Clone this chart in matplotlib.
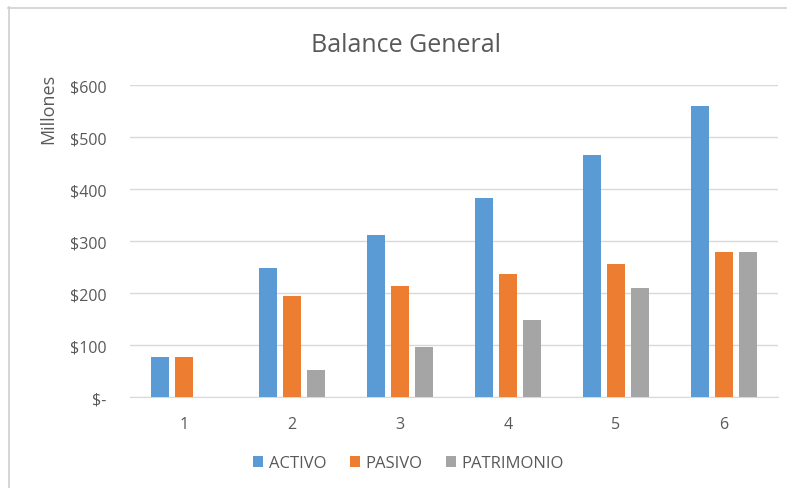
import matplotlib
matplotlib.use('Agg')
import matplotlib.pyplot as plt
from matplotlib.lines import Line2D
import numpy as np

periodos = ['1', '2', '3', '4', '5', '6']
activo = [77, 248, 311, 382, 465, 560]
pasivo = [77, 194, 213, 236, 256, 279]
patrimonio = [0, 52, 96, 148, 210, 279]
y_ticks = [0, 100, 200, 300, 400, 500, 600]
y_labels = ['$-', '$100', '$200', '$300', '$400', '$500', '$600']

colores = ['#5B9BD5', '#ED7D31', '#A5A5A5']
texto = '#595959'

plt.rcParams['font.family'] = ['Open Sans', 'DejaVu Sans']

fig = plt.figure(figsize=(7.87, 4.89), dpi=100)
ax = fig.add_axes([0.165, 0.186, 0.8236, 0.638])

x = np.arange(len(periodos))
ancho = 0.167
paso = 0.222
series = [('ACTIVO', activo), ('PASIVO', pasivo), ('PATRIMONIO', patrimonio)]
for i, (nombre, valores) in enumerate(series):
    ax.bar(x + (i - 1) * paso, valores, width=ancho, color=colores[i],
           label=nombre, zorder=3)

ax.set_xlim(-0.5, len(periodos) - 0.5)
ax.set_ylim(0, 600)
ax.set_yticks(y_ticks)
ax.set_yticklabels(y_labels)
ax.set_xticks(x)
ax.set_xticklabels(periodos)
ax.yaxis.grid(True, color='#D9D9D9', linewidth=1, zorder=0)
for s in ['top', 'right', 'left']:
    ax.spines[s].set_visible(False)
ax.spines['bottom'].set_color('#D9D9D9')
ax.tick_params(axis='both', length=0, colors=texto, labelsize=11.5)
ax.tick_params(axis='y', pad=17)
ax.tick_params(axis='x', pad=14)

# etiqueta del eje y arriba, junto a los primeros valores
fig.text(48 / 787, 1 - 109 / 489, 'Millones', rotation=90, ha='center',
         va='center', color=texto, fontsize=13)

fig.text(0.516, 1 - 45 / 489, 'Balance General', ha='center', va='center',
         color=texto, fontsize=18)

ax.legend(loc='center', bbox_to_anchor=(0.43, -0.212), ncol=3,
          frameon=False, fontsize=12, labelcolor=texto, handlelength=0.6,
          handleheight=0.6, handletextpad=0.35, columnspacing=1.4)

# marco del grafico
fig.add_artist(Line2D([8 / 787, 1], [1 - 8.5 / 489, 1 - 8.5 / 489],
                      color='#D0D0D0', linewidth=1.2))
fig.add_artist(Line2D([8.5 / 787, 8.5 / 787], [0, 1 - 8 / 489],
                      color='#D0D0D0', linewidth=1.2))

fig.savefig('out.png', dpi=100)
